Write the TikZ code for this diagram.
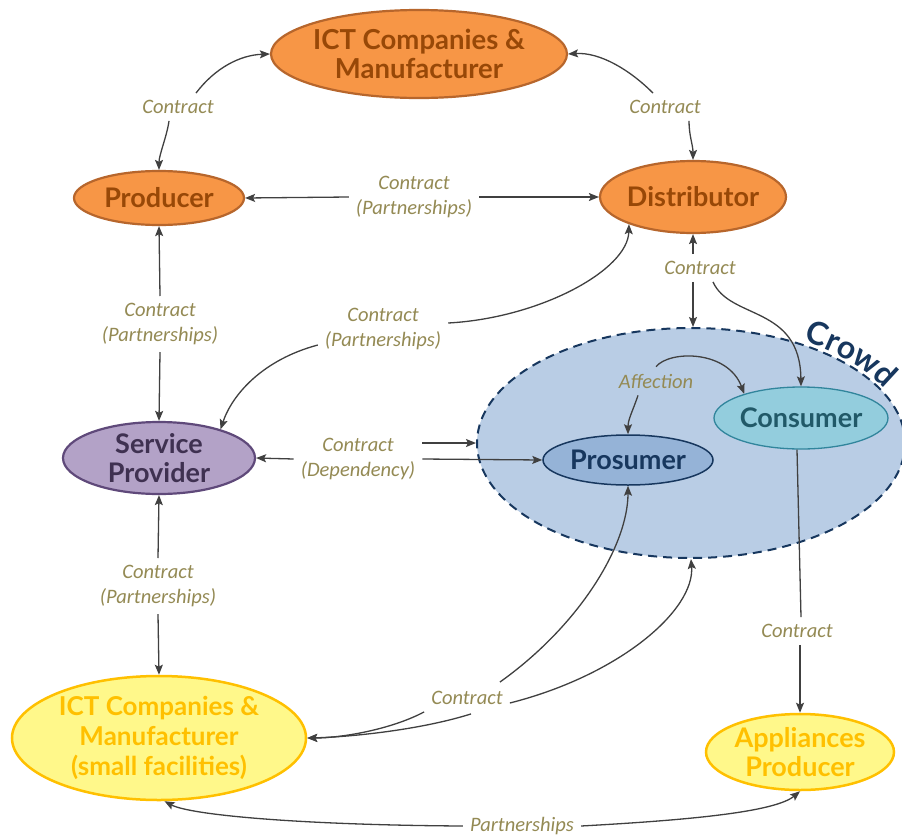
\documentclass[tikz,border=0pt]{standalone}
\usepackage{fontspec}
\setmainfont{Carlito}
\newfontfamily\boxfont{Lato}
\usetikzlibrary{shapes.geometric,arrows.meta,calc,decorations.text}

\definecolor{arrowc}{HTML}{404040}
\definecolor{labelc}{HTML}{948A54}
\definecolor{orangefill}{HTML}{F79646}
\definecolor{orangeline}{HTML}{B7662C}
\definecolor{orangetext}{HTML}{984807}
\definecolor{purplefill}{HTML}{B3A2C7}
\definecolor{purpleline}{HTML}{5F497A}
\definecolor{purpletext}{HTML}{3F3151}
\definecolor{crowdfill}{HTML}{B9CDE5}
\definecolor{navy}{HTML}{17375E}
\definecolor{prosfill}{HTML}{95B3D7}
\definecolor{consfill}{HTML}{93CDDD}
\definecolor{consline}{HTML}{31859C}
\definecolor{constext}{HTML}{215968}
\definecolor{yellowfill}{HTML}{FFF88A}
\definecolor{yellowline}{HTML}{FFC000}

\tikzset{
  ell/.style={ellipse, inner sep=0pt},
  orangebox/.style={ell, fill=orangefill, draw=orangeline, line width=2.2pt},
  ttl/.style={font=\boxfont\bfseries\fontsize{27}{29}\selectfont, align=center, inner sep=0pt},
  lbl/.style={font=\itshape\fontsize{20.5}{25}\selectfont, text=labelc, align=center, inner sep=7pt},
  link/.style={draw=arrowc, line width=1.3pt},
  arr/.style={link, -{Stealth[length=10pt,width=8pt,inset=2pt]}},
}

\begin{document}
\begin{tikzpicture}[x=1pt,y=-1pt]
\useasboundingbox (0,0) rectangle (902,838);
\fill[white] (0,0) rectangle (902,838);

% the crowd and its members
\node[ell, fill=crowdfill, draw=navy, line width=2pt, dash pattern=on 9pt off 6pt,
      minimum width=428pt, minimum height=230pt] (crowd) at (691,443) {};
\path[decorate, decoration={text along path, text align=left,
      text={|\boxfont\bfseries\fontsize{32}{32}\selectfont\color{navy}|Crowd}}]
  ($(691,443)+({218*cos(-59)},{119*sin(-59)})$)
  arc[start angle=-59, end angle=-5, x radius=218, y radius=119];

\node[ell, fill=prosfill, draw=navy, line width=1.5pt,
      minimum width=170pt, minimum height=50pt] (pros) at (628,460) {};
\node[ttl, text=navy] at (pros) {Prosumer};
\node[ell, fill=consfill, draw=consline, line width=1.3pt,
      minimum width=174pt, minimum height=62pt] (cons) at (801,418) {};
\node[ttl, text=constext] at (cons) {Consumer};

% companies and providers
\node[orangebox, minimum width=296pt, minimum height=88pt] (ictT) at (419,54) {};
\node[ttl, text=orangetext, font=\boxfont\bfseries\fontsize{27.5}{29}\selectfont] at (ictT)
  {ICT Companies \&\\Manufacturer};
\node[orangebox, minimum width=170pt, minimum height=54pt] (prod) at (159,198) {};
\node[ttl, text=orangetext] at (prod) {Producer};
\node[orangebox, minimum width=186pt, minimum height=72pt] (dist) at (693,197) {};
\node[ttl, text=orangetext] at (dist) {Distributor};
\node[ell, fill=purplefill, draw=purpleline, line width=2.2pt,
      minimum width=192pt, minimum height=72pt] (sp) at (159,458) {};
\node[ttl, text=purpletext] at (sp) {Service\\Provider};
\node[ell, fill=yellowfill, draw=yellowline, line width=2.5pt,
      minimum width=294pt, minimum height=124pt] (ictS) at (159,738) {};
\node[ttl, text=yellowline, font=\boxfont\bfseries\fontsize{26}{30}\selectfont] at (ictS)
  {ICT Companies \&\\Manufacturer\\(small facilities)};
\node[ell, fill=yellowfill, draw=yellowline, line width=2.5pt,
      minimum width=188pt, minimum height=76pt] (app) at (800,752) {};
\node[ttl, text=yellowline] at (app) {Appliances\\Producer};

% relation labels
\node[lbl] (l1) at (178,107) {Contract};
\node[lbl] (l2) at (665,107) {Contract};
\node[lbl] (l3) at (414,197) {Contract\\(Partnerships)};
\node[lbl] (l4) at (160,324) {Contract\\(Partnerships)};
\node[lbl] (l5) at (383,329) {Contract\\(Partnerships)};
\node[lbl] (l6) at (700,268) {Contract};
\node[lbl] (l7) at (358,459) {Contract\\(Dependency)};
\node[lbl] (l8) at (656,381) {Affection};
\node[lbl] (l9) at (158,586) {Contract\\(Partnerships)};
\node[lbl] (l10) at (467,698) {Contract};
\node[lbl] (l11) at (797,631) {Contract};
\node[lbl] (l12) at (522,826) {Partnerships};

% ICT companies -- producer / distributor
\draw[arr] ($(l1.north)+(18,0)$) .. controls (215,68) and (240,55) .. (ictT.west);
\draw[arr] ($(l1.south)+(-9,0)$) .. controls +(-2,15) and +(0,-15) .. (prod.north);
\draw[arr] ($(l2.north)+(-12,0)$) .. controls (630,70) and (600,52) .. (ictT.east);
\draw[arr] ($(l2.south)+(24,0)$) .. controls +(0,15) and +(0,-15) .. (dist.north);

% producer -- distributor
\draw[arr] (l3.west) -- (prod.east);
\draw[arr] (l3.east) -- (dist.west);

% producer -- service provider
\draw[arr] (l4.north) -- (prod.south);
\draw[arr] (l4.south) -- (sp.north);

% distributor -- service provider
\draw[arr] ($(l5.east)+(0,-6)$) .. controls (540,318) and (628,270) .. (dist.203);
\draw[arr] ($(l5.west)+(0,16)$) .. controls (262,360) and (232,395) .. (sp.25);

% distributor -- crowd / consumer
\draw[arr] (dist.south |- l6.north) -- (dist.south);
\draw[arr] (dist.south |- l6.south) -- (crowd.north -| dist.south);
\draw[arr] ($(l6.south)+(13,0)$) .. controls (730,320) and (800,305) .. (cons.north);

% service provider -- crowd / prosumer
\draw[arr] (l7.west) -- (sp.east);
\draw[arr] ($(l7.east)+(0,-16)$) -- (crowd.west);
\draw[arr] (l7.east) -- (pros.west);

% affection inside the crowd
\draw[arr] (l8.north) .. controls (670,350) and (728,350) .. (cons.157);
\draw[arr] ($(l8.south)+(-18,0)$) .. controls +(-5,15) and +(0,-15) .. (pros.north);

% service provider -- small ICT companies
\draw[arr] (l9.north) -- (sp.south);
\draw[arr] (l9.south) -- (ictS.north);

% small ICT companies -- prosumer / crowd
\draw[arr] ($(l10.north east)+(-10,-2)$) .. controls (580,625) and (628,545) .. (pros.south);
\draw[arr] ($(l10.east)+(0,5)$) .. controls (620,675) and (695,610) .. (crowd.south);
\draw[arr] (l10.south west) .. controls (390,730) and (340,738) .. (ictS.east);
\draw[arr] ($(l10.south)+(4,2)$) .. controls (420,730) and (350,737) .. (ictS.east);

% consumer -- appliances producer
\draw[link] (cons.south -| l11.north) -- (l11.north -| cons.south);
\draw[arr] (l11.south -| app.north) -- (app.north);

% small ICT companies -- appliances producer
\draw[arr] (l12.west) .. controls (300,825) and (190,815) .. (ictS.275);
\draw[arr] (l12.east) .. controls (690,820) and (775,812) .. (app.south);
\end{tikzpicture}
\end{document}
